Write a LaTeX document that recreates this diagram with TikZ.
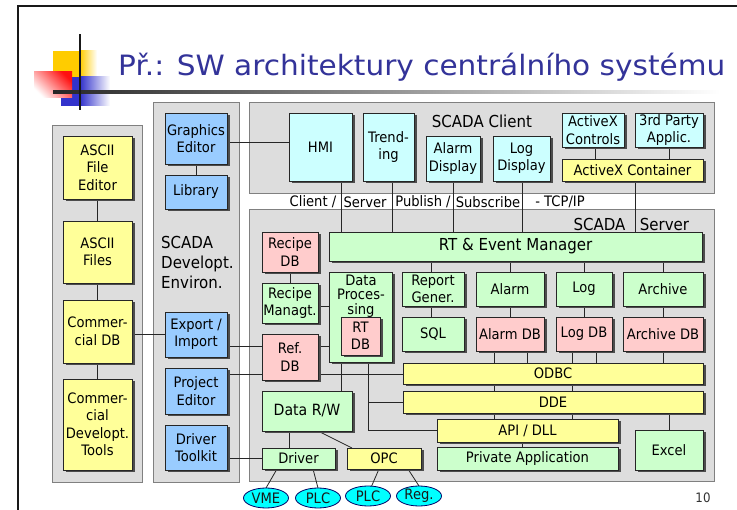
\documentclass[tikz,border=0pt]{standalone}
\usepackage{graphicx}
\usepackage{fontspec}
\setmainfont{DejaVu Sans}[FakeStretch=0.91]
\usetikzlibrary{shapes.geometric}

\definecolor{ylwfill}{HTML}{FFFF99}
\definecolor{bluefill}{HTML}{99CCFF}
\definecolor{cyanfill}{HTML}{CCFFFF}
\definecolor{greenfill}{HTML}{CCFFCC}
\definecolor{pinkfill}{HTML}{FFCCCC}
\definecolor{panelfill}{HTML}{DDDDDD}
\definecolor{paneledge}{HTML}{808080}
\definecolor{titleblue}{HTML}{333399}
\definecolor{decoyellow}{HTML}{FFCC00}
\definecolor{decoblue}{HTML}{3333CC}
\definecolor{decored}{HTML}{FF1010}
\definecolor{devfill}{HTML}{00FFFF}
\definecolor{devedge}{HTML}{000066}

\newcommand\bxfont{\fontsize{14.4}{17.5}\selectfont}
\newcommand\lblfont{\fontsize{14.4}{17}\selectfont}
\newcommand\bigfont{\fontsize{16.5}{20}\selectfont}

% box with a dark drop shadow: name, style, x1, y1, x2, y2, text
\newcommand\slidebox[7]{%
  \fill[boxshadow] ({#3+2.5},{#4+2.5}) rectangle ({#5+2.5},{#6+2.5});
  \node[#2, minimum width={(#5-#3)*1pt}, minimum height={(#6-#4)*1pt}]
    (#1) at ({(#3+#5)/2},{(#4+#6)/2}) {#7};}

\pgfdeclarelayer{panels}
\pgfdeclarelayer{wires}
\pgfsetlayers{panels,wires,main}

\tikzset{
  boxshadow/.style={fill=black!70},
  box/.style={draw=black!85, line width=0.8pt, inner sep=0pt, outer sep=0pt,
    align=center, font=\bxfont, text=black},
  ylw/.style={box, fill=ylwfill},
  blu/.style={box, fill=bluefill},
  cyn/.style={box, fill=cyanfill},
  grn/.style={box, fill=greenfill},
  pnk/.style={box, fill=pinkfill},
  panel/.style={fill=panelfill, draw=paneledge, line width=0.9pt},
  wire/.style={draw=black!85, line width=0.8pt},
  device/.style={ellipse, draw=devedge, line width=0.8pt, fill=devfill,
    minimum width=45pt, minimum height=20pt, inner sep=0pt, outer sep=0pt,
    font=\lblfont, text=black!90},
  lbl/.style={inner sep=0pt, font=\lblfont, text=black},
}

\begin{document}
\begin{tikzpicture}[x=1pt,y=-1pt]
\useasboundingbox (0,0) rectangle (737,510);

\begin{pgfonlayer}{panels}
  \fill[white] (0,0) rectangle (737,510);
  % group panels
  \draw[panel] (52,125) rectangle (142,482);
  \draw[panel] (153,102) rectangle (239,482);
  \draw[panel] (249,102) rectangle (714,193);
  \draw[panel] (249,209) rectangle (714,481);
\end{pgfonlayer}

% slide frame
\draw[line width=2.6pt, black!90] (18,510) -- (18,6) -- (737,6);

% title ornament
\fill[decoyellow] (53,51) rectangle (80,77);
\shade[left color=decoyellow, right color=white] (80,51) rectangle (97,77);
\fill[decoblue] (61,77) rectangle (80,106);
\shade[left color=decoblue, right color=white] (80,77) rectangle (110,106);
\shade[top color=decored, bottom color=white, shading angle=-45] (34,72) rectangle (72,98);
\shade[left color=black!85, right color=white] (53,90.5) rectangle (720,93.5);
\fill[black!90] (78.6,34) rectangle (81.4,110);

\node[anchor=base west, inner sep=0pt, text=titleblue,
      font=\fontsize{28}{32}\selectfont] (title) at (118,76)
  {\resizebox{607pt}{\height}{Př.: SW architektury centrálního systému}};

% left column
\slidebox{asciied}{ylw}{63}{136}{132}{199}{ASCII\\File\\Editor}
\slidebox{asciifiles}{ylw}{63}{221}{132}{283}{ASCII\\Files}
\slidebox{comdb}{ylw}{63}{300}{132}{363}{Commer-\\cial DB}
\slidebox{comtools}{ylw}{63}{379}{132}{470}{Commer-\\cial\\Developt.\\Tools}

% development environment
\slidebox{gfxed}{blu}{165}{113}{227}{164}{Graphics\\Editor}
\slidebox{library}{blu}{165}{175}{227}{209}{Library}
\slidebox{expimp}{blu}{165}{312}{227}{357}{Export /\\Import}
\slidebox{projed}{blu}{165}{368}{227}{414}{Project\\Editor}
\slidebox{drvkit}{blu}{165}{425}{227}{470}{Driver\\Toolkit}
\node[anchor=west, inner sep=0pt, align=left, font=\bigfont] (devenv) at (161,262)
  {SCADA\\Developt.\\Environ.};

% client
\slidebox{hmi}{cyn}{289}{113}{352}{181}{HMI}
\slidebox{trend}{cyn}{363}{113}{414}{181}{Trend-\\ing}
\slidebox{aldisp}{cyn}{426}{136}{480}{181}{Alarm\\Display}
\slidebox{logdisp}{cyn}{493}{136}{550}{181}{Log\\Display}
\slidebox{axctrl}{cyn}{562}{113}{624}{147}{ActiveX\\Controls}
\slidebox{third}{cyn}{635}{113}{703}{147}{3rd Party\\Applic.}
\slidebox{axcont}{ylw}{562}{159}{703}{181}{ActiveX Container}
\node[lbl, font=\bigfont] (clientname) at (482,121) {SCADA Client};

% protocol line
\node[lbl] (cs1) at (313,202) {Client /};
\node[lbl] (cs2) at (365,202) {Server};
\node[lbl] (cs3) at (423,202) {Publish /};
\node[lbl] (cs4) at (488,202) {Subscribe};
\node[lbl] (cs5) at (560,202) {- TCP/IP};

% server
\node[lbl, font=\bigfont] (srv1) at (599.5,224) {SCADA};
\node[lbl, font=\bigfont] (srv2) at (664.5,224) {Server};
\slidebox{rtem}{grn}{329}{232}{702}{261}{\bigfont RT \& Event Manager}
\slidebox{recdb}{pnk}{262}{232}{318}{272}{Recipe\\DB}
\slidebox{recman}{grn}{262}{283}{318}{323}{Recipe\\Managt.}
\slidebox{dataproc}{grn}{329}{272}{392}{362}{}
\node[inner sep=0pt, align=center, font=\fontsize{14.4}{14.5}\selectfont] (dptext) at (361,296)
  {Data\\Proces-\\sing};
\slidebox{rtdb}{pnk}{341}{317}{380}{355}{RT\\DB}
\slidebox{refdb}{pnk}{262}{334}{318}{380}{Ref.\\DB}
\slidebox{report}{grn}{402}{272}{464}{306}{Report\\Gener.}
\slidebox{sql}{grn}{402}{317}{464}{351}{SQL}
\slidebox{alarm}{grn}{476}{272}{544}{306}{Alarm}
\slidebox{log}{grn}{556}{272}{612}{306}{Log}
\slidebox{archive}{grn}{623}{272}{703}{306}{Archive}
\slidebox{aldb}{pnk}{476}{317}{544}{351}{Alarm DB}
\slidebox{logdb}{pnk}{556}{317}{612}{351}{Log DB}
\slidebox{archdb}{pnk}{623}{317}{703}{351}{Archive DB}
\slidebox{odbc}{ylw}{403}{363}{703}{384}{ODBC}
\slidebox{dde}{ylw}{403}{391}{703}{413}{DDE}
\slidebox{api}{ylw}{437}{419}{618}{442}{API / DLL}
\slidebox{private}{grn}{437}{447}{618}{470}{Private Application}
\slidebox{excel}{grn}{635}{430}{703}{470}{Excel}
\slidebox{datarw}{grn}{262}{391}{352}{431}{\fontsize{15.5}{18}\selectfont Data R/W}
\slidebox{driver}{grn}{262}{448}{335}{469}{Driver}
\slidebox{opc}{ylw}{347}{448}{421}{469}{OPC}

% field devices
\node[device] (vme) at (266,498) {VME};
\node[device] (plca) at (318,498) {PLC};
\node[device] (plcb) at (368,496) {PLC};
\node[device] (reg) at (419,496) {Reg.};

\node[inner sep=0pt, font=\fontsize{13}{15}\selectfont, text=black!80] (pagenum) at (703,498) {10};

\begin{pgfonlayer}{wires}
  % tools column
  \draw[wire] (asciied) -- (asciifiles);
  \draw[wire] (asciifiles) -- (comdb);
  \draw[wire] (comdb) -- (comtools);
  \draw[wire] (comdb.east |- 0,334) -- (expimp.west |- 0,334);
  \draw[wire] (gfxed) -- (library);
  \draw[wire] (gfxed.east |- 0,142) -- (hmi.west |- 0,142);
  \draw[wire] (expimp.east |- 0,346) -- (rtdb.west |- 0,346);
  \draw[wire] (projed.east |- 0,374) -- (odbc.west |- 0,374);
  \draw[wire] (drvkit.east |- 0,458) -- (driver.west |- 0,458);
  % client to server
  \draw[wire] (341,0 |- hmi.south) -- (341,0 |- rtem.north);
  \draw[wire] (392,0 |- trend.south) -- (392,0 |- rtem.north);
  \draw[wire] (453,0 |- aldisp.south) -- (453,0 |- rtem.north);
  \draw[wire] (522,0 |- logdisp.south) -- (522,0 |- rtem.north);
  \draw[wire] (635,0 |- axcont.south) -- (635,0 |- rtem.north);
  \draw[wire] (595,0 |- axctrl.south) -- (595,0 |- axcont.north);
  \draw[wire] (669,0 |- third.south) -- (669,0 |- axcont.north);
  % server internals
  \draw[wire] (recdb) -- (recman);
  \draw[wire] (recman.east |- 0,306) -- (dataproc.west |- 0,306);
  \draw[wire] (431,0 |- rtem.south) -- (431,0 |- report.north);
  \draw[wire] (431,0 |- report.south) -- (431,0 |- sql.north);
  \draw[wire] (510,0 |- rtem.south) -- (510,0 |- alarm.north);
  \draw[wire] (510,0 |- alarm.south) -- (510,0 |- aldb.north);
  \draw[wire] (584,0 |- rtem.south) -- (584,0 |- log.north);
  \draw[wire] (584,0 |- log.south) -- (584,0 |- logdb.north);
  \draw[wire] (663,0 |- rtem.south) -- (663,0 |- archive.north);
  \draw[wire] (663,0 |- archive.south) -- (663,0 |- archdb.north);
  \draw[wire] (663,0 |- archdb.south) -- (663,0 |- odbc.north);
  \foreach \xx in {494,527} \draw[wire] (\xx,0 |- aldb.south) -- (\xx,0 |- odbc.north);
  \foreach \xx in {572,596} \draw[wire] (\xx,0 |- logdb.south) -- (\xx,0 |- odbc.north);
  \foreach \xx in {494,572} {
    \draw[wire] (\xx,0 |- odbc.south) -- (\xx,0 |- dde.north);
    \draw[wire] (\xx,0 |- dde.south) -- (\xx,0 |- api.north);
  }
  \draw[wire] (522,0 |- api.south) -- (522,0 |- private.north);
  \draw[wire] (669,0 |- dde.south) -- (669,0 |- excel.north);
  \draw[wire] (341,0 |- dataproc.south) -- (341,0 |- datarw.north);
  \draw[wire] (368,0 |- rtdb.south) |- (api.west);
  \draw[wire] (368,0 |- dde.west) -- (dde.west);
  \draw[wire] (289,0 |- datarw.south) -- (289,0 |- driver.north);
  \draw[wire] (318,0 |- datarw.south) -- (352,0 |- opc.north);
  % field connections
  \draw[wire] (277,0 |- driver.south) -- (vme.north);
  \draw[wire] (313,0 |- driver.south) -- (plca.north);
  \draw[wire] (379,0 |- opc.south) -- (plcb.70);
  \draw[wire] (408,0 |- opc.south) -- (reg.north);
\end{pgfonlayer}
\end{tikzpicture}
\end{document}
